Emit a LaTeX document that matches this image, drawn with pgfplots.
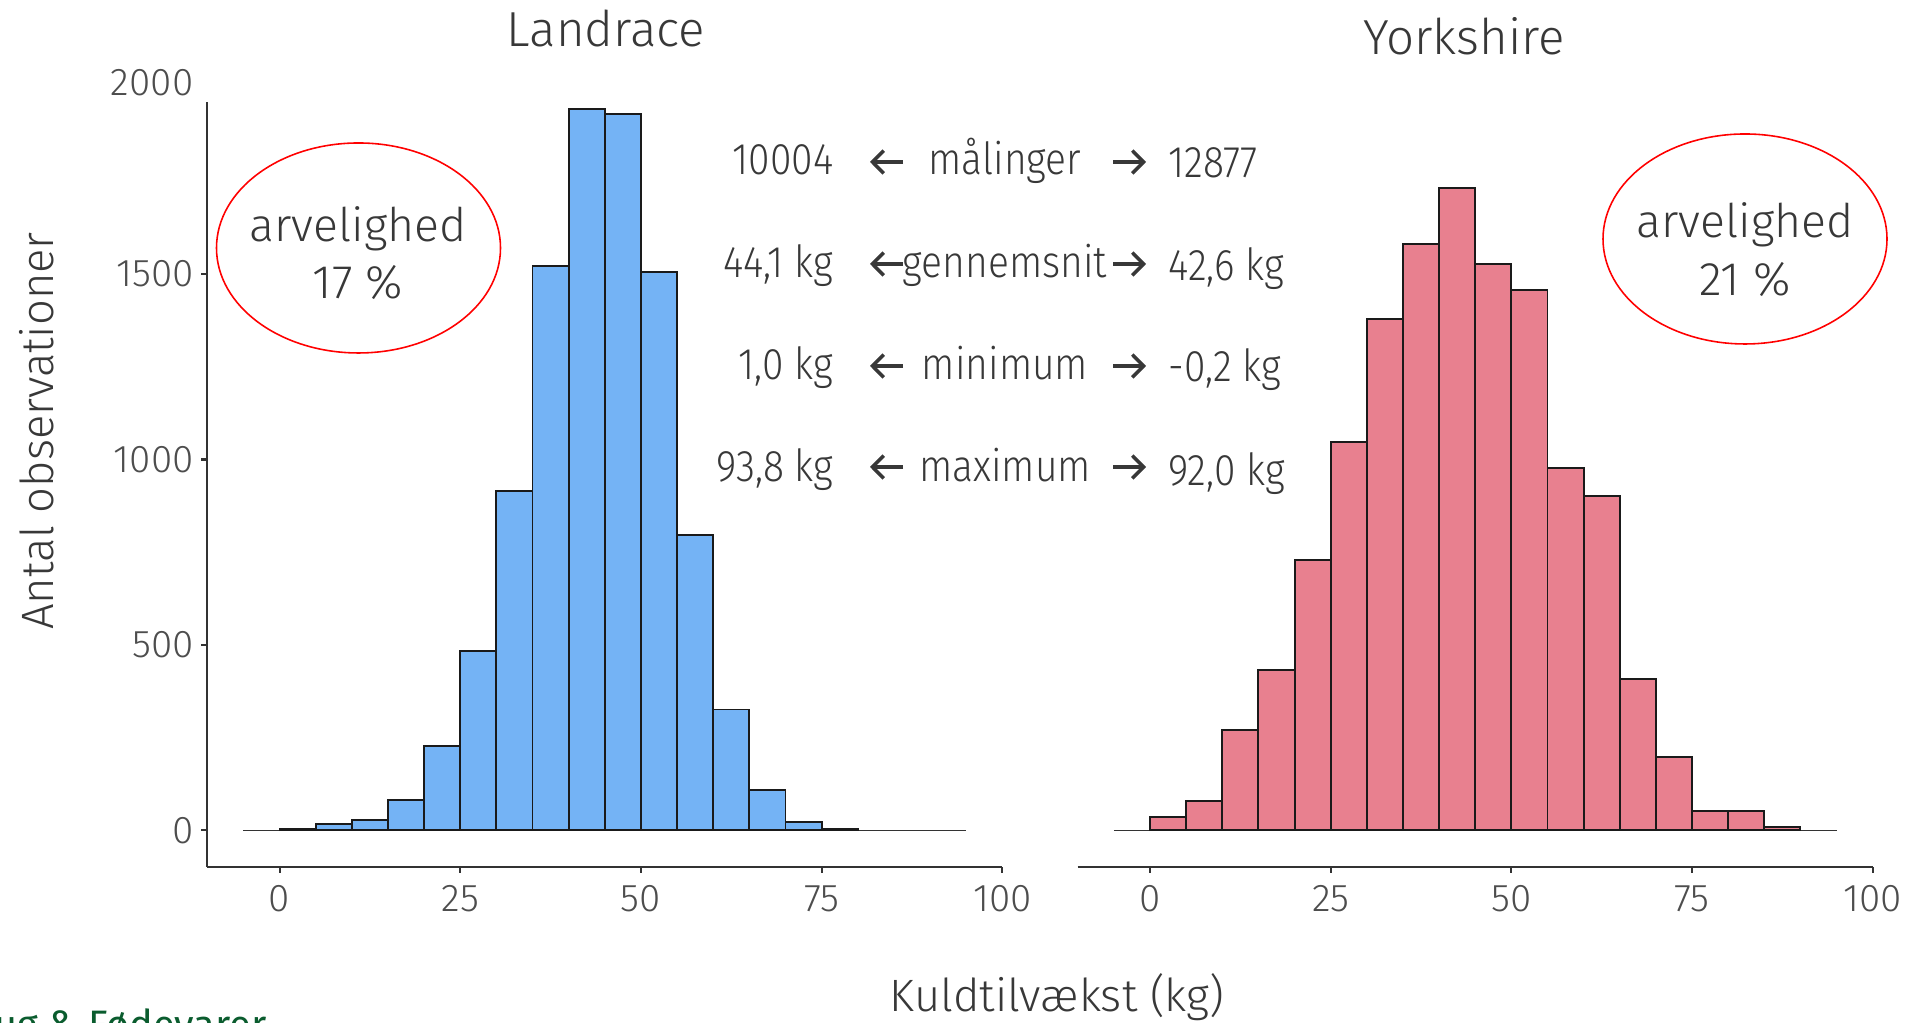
\documentclass[border=0pt]{standalone}
\usepackage{pgfplots}
\pgfplotsset{compat=1.18}
\usepackage{fontspec}
\setmainfont{Fira Sans}[UprightFont=* Light]
\newfontfamily\condfont{Fira Sans}[UprightFont=* Light, FakeStretch=0.88]
\newfontfamily\greenfont{Fira Sans}
\usetikzlibrary{arrows.meta}
\definecolor{landblue}{HTML}{74B3F5}
\definecolor{yorkpink}{HTML}{E8808F}
\definecolor{barline}{HTML}{1A1A1A}
\definecolor{axgray}{HTML}{333333}
\definecolor{labgray}{HTML}{4D4D4D}
\definecolor{txt}{HTML}{383838}
\definecolor{lfgreen}{HTML}{0A5C2E}

\begin{document}
\begin{tikzpicture}
\useasboundingbox (0,0) rectangle (19.14,10.23);
\clip (0,0) rectangle (19.14,10.23);
\pgfplotsset{
  histax/.style={scale only axis, width=7.95cm, height=7.65cm,
    xmin=-10, xmax=100, ymin=-98.7, ymax=1964, anchor=south west,
    xtick={0,25,50,75,100}, tick align=outside, major tick length=0.06cm,
    axis line style={color=axgray, line width=0.57pt},
    tick style={color=axgray, line width=0.57pt},
    tick label style={font=\fontsize{11}{13}\selectfont, text=labgray},
    /pgf/number format/assume math mode=true,
    /pgf/number format/1000 sep={},
    clip=false}
}
\begin{axis}[histax, at={(2.073cm,1.56cm)}, axis x line*=bottom, axis y line*=left,
  ytick={0,500,1000,1500}, yticklabel style={inner sep=2pt}]
\addplot[color=axgray, line width=0.5pt] coordinates {(-5,0) (95,0)};
\addplot[ybar interval, fill=landblue, draw=barline, line width=0.55pt] coordinates {
(0,5) (5,18) (10,28) (15,82) (20,228) (25,483) (30,915) (35,1522) (40,1944) (45,1932)
(50,1505) (55,796) (60,326) (65,109) (70,22) (75,3) (80,0)};
\end{axis}
\begin{axis}[histax, at={(10.777cm,1.56cm)}, axis x line*=bottom, axis y line=none,
  ytick=\empty]
\addplot[color=axgray, line width=0.5pt] coordinates {(-5,0) (95,0)};
\addplot[ybar interval, fill=yorkpink, draw=barline, line width=0.55pt] coordinates {
(0,37) (5,80) (10,270) (15,432) (20,730) (25,1047) (30,1380) (35,1580) (40,1732) (45,1528)
(50,1457) (55,978) (60,901) (65,409) (70,199) (75,52) (80,52) (85,10) (90,0)};
\end{axis}

% extra 2000 label
\node[anchor=east, inner sep=0pt, font=\fontsize{11}{13}\selectfont, text=labgray] at (1.94,9.405) {2000};

% titles
\node[anchor=base, inner sep=0pt, font=\fontsize{14}{16}\selectfont, text=txt] at (6.06,9.766) {Landrace};
\node[anchor=base, inner sep=0pt, font=\fontsize{14}{16}\selectfont, text=txt] at (14.64,9.68) {Yorkshire};

% axis labels
\node[rotate=90, anchor=center, inner sep=0pt, font=\fontsize{12.9}{15}\selectfont, text=txt] at (0.37,5.92) {Antal observationer};
\node[anchor=base, inner sep=0pt, font=\fontsize{12.9}{15}\selectfont, text=txt] at (10.57,0.113) {Kuldtilvækst (kg)};

% ellipses
\draw[red, line width=0.45pt] (3.585,7.75) ellipse [x radius=1.42, y radius=1.05];
\draw[red, line width=0.45pt] (17.45,7.84) ellipse [x radius=1.42, y radius=1.05];
\node[anchor=base, inner sep=0pt, font=\fontsize{13.2}{15}\selectfont, text=txt] at (3.58,7.813) {arvelighed};
\node[anchor=base, inner sep=0pt, font=\fontsize{13.4}{15}\selectfont, text=txt] at (3.58,7.24) {17~\%};
\node[anchor=base, inner sep=0pt, font=\fontsize{13.2}{15}\selectfont, text=txt] at (17.45,7.85) {arvelighed};
\node[anchor=base, inner sep=0pt, font=\fontsize{13.4}{15}\selectfont, text=txt] at (17.45,7.27) {21~\%};

% middle annotations
\tikzset{ann/.style={inner sep=0pt, font=\condfont\fontsize{12.6}{14}\selectfont, text=txt},
  arr/.style={color=txt, line width=1pt, -{Straight Barb[length=3.2pt, width=6.5pt, line width=1pt]}}}
\node[ann, anchor=base east] at (8.34,8.485) {10004};
\node[ann, anchor=base east] at (8.34,7.45) {44,1 kg};
\node[ann, anchor=base east] at (8.34,6.43) {1,0 kg};
\node[ann, anchor=base east] at (8.34,5.41) {93,8 kg};
\node[ann, anchor=base west] at (11.68,8.45) {12877};
\node[ann, anchor=base west] at (11.68,7.42) {42,6 kg};
\node[ann, anchor=base west] at (11.68,6.41) {-0,2 kg};
\node[ann, anchor=base west] at (11.68,5.37) {92,0 kg};
\node[ann, anchor=base] at (10.05,8.485) {målinger};
\node[ann, anchor=base] at (10.05,7.45) {gennemsnit};
\node[ann, anchor=base] at (10.05,6.43) {minimum};
\node[ann, anchor=base] at (10.05,5.41) {maximum};
\foreach \yy in {8.61,7.59,6.57,5.56}{
  \draw[arr] (9.03,\yy) -- (8.70,\yy);
  \draw[arr] (11.13,\yy) -- (11.46,\yy);
}

% cut-off footer text (cut by the page edge, as in the reference)
\node[anchor=base east, inner sep=0pt, font=\greenfont\fontsize{11.3}{12}\selectfont, text=lfgreen] at (2.67,-0.16) {Landbrug \& Fødevarer};
\end{tikzpicture}
\end{document}
